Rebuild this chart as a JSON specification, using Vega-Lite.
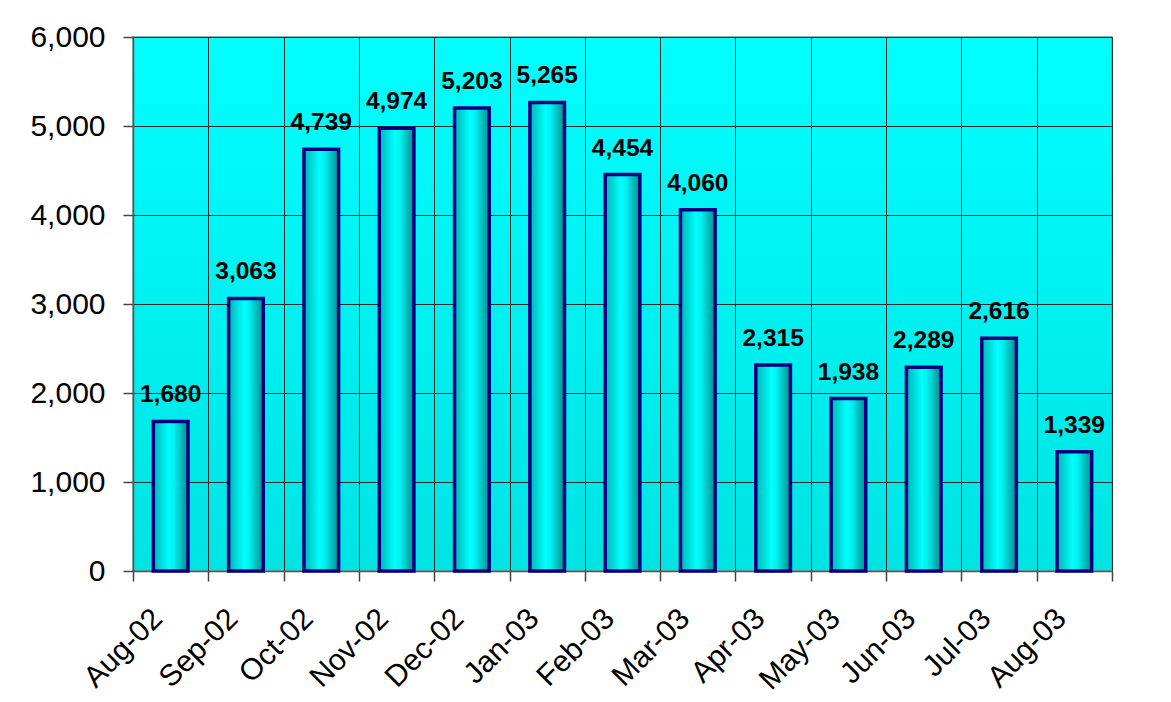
{
  "$schema": "https://vega.github.io/schema/vega-lite/v6.json",
  "width": 979,
  "height": 534,
  "autosize": {"type": "none"},
  "padding": {"left": 133, "top": 37, "right": 59, "bottom": 131},
  "background": "white",
  "config": {
    "font": "Liberation Sans",
    "view": {
      "fill": {"gradient": "linear", "x1": 0, "y1": 0, "x2": 0, "y2": 1,
        "stops": [{"offset": 0, "color": "#00FFFF"}, {"offset": 1, "color": "#00E3E3"}]},
      "stroke": "#6f9f9f",
      "strokeWidth": 1.5
    }
  },
  "data": {
    "values": [
      {"month": "Aug-02", "value": 1680},
      {"month": "Sep-02", "value": 3063},
      {"month": "Oct-02", "value": 4739},
      {"month": "Nov-02", "value": 4974},
      {"month": "Dec-02", "value": 5203},
      {"month": "Jan-03", "value": 5265},
      {"month": "Feb-03", "value": 4454},
      {"month": "Mar-03", "value": 4060},
      {"month": "Apr-03", "value": 2315},
      {"month": "May-03", "value": 1938},
      {"month": "Jun-03", "value": 2289},
      {"month": "Jul-03", "value": 2616},
      {"month": "Aug-03", "value": 1339}
    ]
  },
  "encoding": {
    "x": {
      "field": "month", "type": "nominal", "sort": null,
      "scale": {"paddingInner": 0, "paddingOuter": 0},
      "axis": {
        "title": null, "tickBand": "extent", "grid": true,
        "gridColor": "#2a2a2a", "gridWidth": 1, "gridOpacity": 1,
        "domainColor": "#555555", "domainWidth": 1.5,
        "tickColor": "#444444", "tickSize": 10, "tickWidth": 1.5,
        "labelAngle": -45, "labelAlign": "right", "labelBaseline": "top",
        "labelFontSize": 30, "labelColor": "#000000", "labelPadding": 22,
        "labelOffset": -24,
        "labelFont": "Liberation Sans"
      }
    },
    "y": {
      "field": "value", "type": "quantitative",
      "scale": {"domain": [0, 6000], "nice": false},
      "axis": {
        "title": null, "values": [0, 1000, 2000, 3000, 4000, 5000, 6000],
        "format": ",d", "grid": true,
        "gridColor": "#2a2a2a", "gridWidth": 1, "gridOpacity": 1,
        "domainColor": "#555555", "domainWidth": 1.5,
        "tickColor": "#444444", "tickSize": 10, "tickWidth": 1.5,
        "labelFontSize": 30, "labelColor": "#000000", "labelPadding": 18,
        "labelFont": "Liberation Sans"
      }
    }
  },
  "layer": [
    {
      "mark": {
        "type": "bar",
        "width": {"band": 0.46},
        "stroke": "#000080",
        "strokeWidth": 3.5,
        "fill": {"gradient": "linear", "x1": 0, "y1": 0, "x2": 1, "y2": 0,
          "stops": [
            {"offset": 0, "color": "#00B4B4"},
            {"offset": 0.45, "color": "#00FFFF"},
            {"offset": 0.6, "color": "#00F0F0"},
            {"offset": 1, "color": "#008C8C"}
          ]}
      }
    },
    {
      "mark": {"type": "text", "fontSize": 24.5, "fontWeight": "bold", "font": "Liberation Sans",
        "color": "#000000", "baseline": "alphabetic", "dy": -19},
      "encoding": {"text": {"field": "value", "type": "quantitative", "format": ",d"}}
    }
  ]
}
